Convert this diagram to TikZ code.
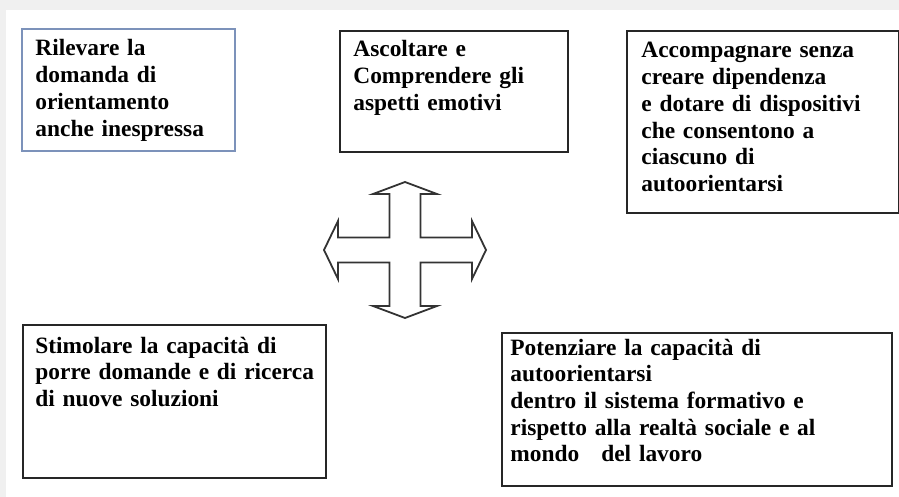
\documentclass[tikz,border=0pt]{standalone}
\usepackage{fontspec}
\setmainfont{Liberation Serif}
\usepackage{xcolor}
\definecolor{boxblue}{RGB}{124,146,186}
\definecolor{pagegray}{RGB}{240,240,240}
\tikzset{
  goalbox/.style={draw=black!85, line width=0.8pt, rectangle, anchor=north west, inner sep=0pt},
  goaltext/.style={anchor=base west, inner sep=0pt, text width=#1, align=left,
    font=\bfseries\fontsize{11.7}{13.35}\selectfont},
}

\begin{document}
\begin{tikzpicture}[x=0.5pt, y=-0.5pt]
				\useasboundingbox (0,0) rectangle (899,497);
				\fill[pagegray] (0,0) rectangle (899,497);
				\fill[white] (6,10) rectangle (899,497);
				% boxes
				\node[goalbox, draw=boxblue, minimum width=106.5pt, minimum height=61pt] (B1)at(21, 28) {};
				\node[goalbox, minimum width=114pt, minimum height=60.5pt] (B2)at(339, 30) {};
				\node[goalbox, minimum width=136pt, minimum height=91pt] (B3)at(626, 30) {};
				\node[goalbox, minimum width=151.5pt, minimum height=76.5pt] (B4)at(22, 324) {};
				\node[goalbox, minimum width=195pt, minimum height=76.5pt] (B5)at(501, 332) {};
				% texts
				\node[goaltext=96pt] (T1)at(35, 56) {Rilevare la\\ domanda di\\ orientamento\\ anche inespressa};
				\node[goaltext=104pt] (T2)at(353, 57) {Ascoltare e\\ Comprendere gli\\ aspetti emotivi};
				\node[goaltext=126pt] (T3)at(641, 58) {Accompagnare senza\\ creare dipendenza\\ e dotare di dispositivi\\ che consentono a\\ ciascuno di\\ autoorientarsi};
				\node[goaltext=142pt] (T4)at(35, 353) {Stimolare la capacità di\\ porre domande e di ricerca\\ di nuove soluzioni};
				\node[goaltext=186pt] (T5)at(510, 355) {Potenziare la capacità di\\ autoorientarsi\\ dentro il sistema formativo e\\ rispetto alla realtà sociale e al\\ mondo\hspace*{11pt}del lavoro};
				% four-way arrow
				\coordinate (X)at(405, 250);
				\draw[line width=0.9pt, black!80, line join=miter] (405,182) -- (437,194) -- (420.5,194) -- (420.5,237.5) -- (472,237.5) -- (472,221) -- (486,250) -- (472,279) -- (472,262.5) -- (420.5,262.5) -- (420.5,306) -- (437,306) -- (405,318) -- (373,306) -- (389.5,306) -- (389.5,262.5) -- (338,262.5) -- (338,279) -- (324,250) -- (338,221) -- (338,237.5) -- (389.5,237.5) -- (389.5,194) -- (373,194) -- cycle;
			\end{tikzpicture}
\end{document}
